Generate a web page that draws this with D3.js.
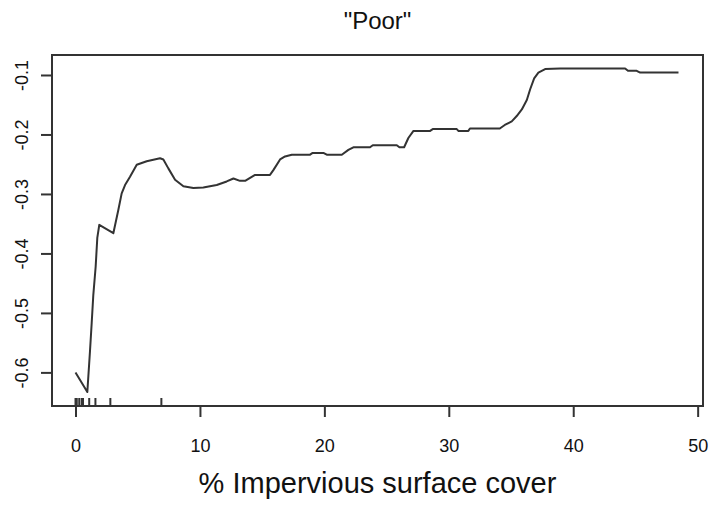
<!DOCTYPE html>
<html>
<head>
<meta charset="utf-8">
<script src="https://cdn.jsdelivr.net/npm/d3@7"></script>
<style>
  html, body { margin: 0; padding: 0; background: #fff; }
  svg { display: block; }
  text { font-family: "Liberation Sans", Arial, sans-serif; fill: #111; }
</style>
</head>
<body>
<svg id="chart" width="712" height="505"></svg>
<script>
// Partial dependence curve: % impervious surface cover vs. fitted value ("Poor")
const xValues = [0, 0.95, 1.17, 1.3, 1.43, 1.62, 1.75, 1.91, 3.04, 3.44, 3.71, 3.98, 4.38, 4.92, 5.72, 6.79, 7.06, 7.46, 8.0, 8.67, 9.47, 10.27, 11.35, 12.15, 12.69, 13.22, 13.63, 14.43, 15.63, 15.9, 16.44, 16.84, 17.38, 18.85, 19.06, 19.92, 20.19, 21.4, 21.93, 22.33, 23.67, 23.89, 25.82, 26.03, 26.41, 26.75, 27.16, 28.5, 28.71, 30.64, 30.77, 31.57, 31.7, 34.1, 34.5, 35.06, 35.46, 35.87, 36.27, 36.54, 36.86, 37.2, 37.74, 38.95, 44.17, 44.4, 45.1, 45.38, 48.46];
const yValues = [-0.600, -0.633, -0.562, -0.517, -0.470, -0.422, -0.374, -0.352, -0.366, -0.327, -0.299, -0.285, -0.271, -0.251, -0.245, -0.240, -0.242, -0.257, -0.276, -0.287, -0.290, -0.289, -0.285, -0.279, -0.274, -0.278, -0.278, -0.268, -0.268, -0.260, -0.242, -0.237, -0.234, -0.234, -0.231, -0.231, -0.234, -0.234, -0.226, -0.2215, -0.2215, -0.218, -0.218, -0.2215, -0.2215, -0.206, -0.194, -0.194, -0.191, -0.191, -0.194, -0.194, -0.190, -0.190, -0.184, -0.178, -0.169, -0.158, -0.142, -0.124, -0.1056, -0.096, -0.090, -0.089, -0.089, -0.093, -0.093, -0.096, -0.096];
const rugValues = [0, 0.1, 0.3, 0.5, 0.6, 1.1, 1.6, 2.8, 6.9];
const xTicks = [0, 10, 20, 30, 40, 50];
const yTicks = [-0.6, -0.5, -0.4, -0.3, -0.2, -0.1];
const titleText = '"Poor"';
const xLabel = "% Impervious surface cover";

const svg = d3.select("#chart");
const box = { left: 52, right: 703, top: 55, bottom: 406 };

const x = d3.scaleLinear().domain([-1.89, 50.43]).range([box.left, box.right]);
const y = d3.scaleLinear().domain([-0.6565, -0.0664]).range([box.bottom, box.top]);

const ink = "#333";

// Box
svg.append("rect")
  .attr("x", box.left).attr("y", box.top)
  .attr("width", box.right - box.left).attr("height", box.bottom - box.top)
  .attr("fill", "none").attr("stroke", ink).attr("stroke-width", 2);

// X axis
const xAxis = d3.axisBottom(x).tickValues(xTicks).tickSize(11).tickPadding(22).tickFormat(d3.format("d"));
const gx = svg.append("g").attr("transform", `translate(0,${box.bottom})`).call(xAxis);
gx.select(".domain").remove();
gx.selectAll(".tick line").attr("stroke", ink).attr("stroke-width", 2);
gx.selectAll(".tick text").attr("font-size", 18).attr("fill", "#111")
  .attr("font-family", "Liberation Sans, Arial, sans-serif");

// Y axis
const yAxis = d3.axisLeft(y).tickValues(yTicks).tickSize(11).tickFormat(d => d3.format(".1f")(d).replace("−", "-"));
const gy = svg.append("g").attr("transform", `translate(${box.left},0)`).call(yAxis);
gy.select(".domain").remove();
gy.selectAll(".tick line").attr("stroke", ink).attr("stroke-width", 2);
gy.selectAll(".tick text")
  .attr("font-size", 18).attr("fill", "#111")
  .attr("font-family", "Liberation Sans, Arial, sans-serif")
  .attr("x", null).attr("dy", null)
  .attr("text-anchor", "middle")
  .attr("transform", "translate(-24,0) rotate(-90)");

// Rug
svg.append("g").selectAll("line").data(rugValues).join("line")
  .attr("x1", d => x(d)).attr("x2", d => x(d))
  .attr("y1", box.bottom).attr("y2", box.bottom - 8)
  .attr("stroke", ink).attr("stroke-width", 2);

// Curve
const pts = xValues.map((v, i) => [v, yValues[i]]);
svg.append("path").datum(pts)
  .attr("fill", "none").attr("stroke", ink).attr("stroke-width", 2)
  .attr("stroke-linejoin", "round")
  .attr("d", d3.line().x(d => x(d[0])).y(d => y(d[1])));

// Title
svg.append("text").attr("x", (box.left + box.right) / 2).attr("y", 29)
  .attr("text-anchor", "middle").attr("font-size", 24).text(titleText);

// X label
svg.append("text").attr("x", (box.left + box.right) / 2).attr("y", 493)
  .attr("text-anchor", "middle").attr("font-size", 29).text(xLabel);
</script>
</body>
</html>
